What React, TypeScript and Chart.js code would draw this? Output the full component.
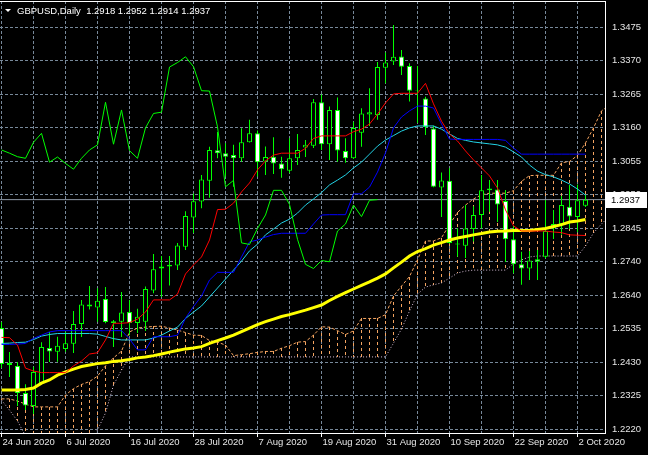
import React, { useEffect, useRef } from 'react';
import { Chart, registerables } from 'chart.js';

Chart.register(...registerables);

const symbolTitle = 'GBPUSD,Daily';
const dateLabels = ['24 Jun 2020', '6 Jul 2020', '16 Jul 2020', '28 Jul 2020', '7 Aug 2020', '19 Aug 2020', '31 Aug 2020', '10 Sep 2020', '22 Sep 2020', '2 Oct 2020'];
const priceLabels = ['1.2220', '1.2325', '1.2430', '1.2535', '1.2640', '1.2740', '1.2845', '1.2950', '1.3055', '1.3160', '1.3265', '1.3370', '1.3475'];

const opens = [1.2536, 1.2421, 1.2418, 1.2333, 1.2293, 1.2364, 1.2474, 1.2462, 1.2471, 1.2487, 1.2549, 1.2610, 1.2600, 1.2627, 1.2552, 1.2556, 1.2586, 1.2552, 1.2556, 1.2653, 1.2728, 1.2728, 1.2731, 1.2790, 1.2881, 1.2931, 1.2996, 1.3091, 1.3082, 1.3076, 1.3066, 1.3116, 1.3144, 1.3056, 1.3071, 1.3050, 1.3027, 1.3066, 1.3100, 1.3105, 1.3241, 1.3110, 1.3217, 1.3089, 1.3066, 1.3146, 1.3203, 1.3201, 1.3349, 1.3368, 1.3384, 1.3354, 1.3278, 1.3253, 1.3159, 1.2975, 1.2996, 1.2800, 1.2793, 1.2845, 1.2889, 1.2972, 1.2969, 1.2933, 1.2813, 1.2735, 1.2722, 1.2751, 1.2759, 1.2848, 1.2861, 1.2915, 1.2883, 1.2918];
const highs = [1.2555, 1.2461, 1.2430, 1.2361, 1.2415, 1.2492, 1.2524, 1.2509, 1.2525, 1.2589, 1.2624, 1.2667, 1.2660, 1.2664, 1.2561, 1.2649, 1.2624, 1.2596, 1.2666, 1.2767, 1.2761, 1.2761, 1.2802, 1.2901, 1.2956, 1.3014, 1.3102, 1.3148, 1.3113, 1.3108, 1.3160, 1.3186, 1.3153, 1.3103, 1.3132, 1.3071, 1.3129, 1.3142, 1.3123, 1.3251, 1.3265, 1.3228, 1.3256, 1.3129, 1.3180, 1.3222, 1.3285, 1.3367, 1.3396, 1.3482, 1.3404, 1.3363, 1.3354, 1.3258, 1.3168, 1.3022, 1.3035, 1.2848, 1.2920, 1.2916, 1.3014, 1.2998, 1.2998, 1.2967, 1.2855, 1.2774, 1.2777, 1.2780, 1.2936, 1.2905, 1.2948, 1.2983, 1.2984, 1.2952];
const lows = [1.2411, 1.2383, 1.2293, 1.2280, 1.2268, 1.2361, 1.2430, 1.2431, 1.2462, 1.2458, 1.2508, 1.2594, 1.2556, 1.2551, 1.2477, 1.2508, 1.2514, 1.2521, 1.2527, 1.2645, 1.2633, 1.2669, 1.2717, 1.2780, 1.2833, 1.2910, 1.2943, 1.3066, 1.3009, 1.2977, 1.3055, 1.3115, 1.3009, 1.3014, 1.3017, 1.3005, 1.3020, 1.3045, 1.3070, 1.3098, 1.3092, 1.3061, 1.3055, 1.3052, 1.3064, 1.3102, 1.3167, 1.3186, 1.3300, 1.3357, 1.3326, 1.3243, 1.3176, 1.3139, 1.2976, 1.2883, 1.2800, 1.2759, 1.2755, 1.2806, 1.2847, 1.2899, 1.2867, 1.2742, 1.2707, 1.2671, 1.2686, 1.2686, 1.2754, 1.2814, 1.2827, 1.2845, 1.2836, 1.2914];
const closes = [1.2424, 1.2427, 1.2333, 1.2294, 1.2399, 1.2477, 1.2463, 1.2481, 1.2489, 1.2549, 1.2610, 1.2603, 1.2621, 1.2555, 1.2557, 1.2585, 1.2552, 1.2571, 1.2658, 1.2720, 1.2722, 1.2734, 1.2794, 1.2886, 1.2932, 1.3000, 1.3092, 1.3082, 1.3071, 1.3066, 1.3116, 1.3144, 1.3054, 1.3070, 1.3050, 1.3032, 1.3066, 1.3092, 1.3108, 1.3241, 1.3110, 1.3217, 1.3090, 1.3066, 1.3161, 1.3206, 1.3210, 1.3351, 1.3365, 1.3383, 1.3352, 1.3277, 1.3276, 1.3164, 1.2977, 1.2997, 1.2802, 1.2797, 1.2847, 1.2889, 1.2966, 1.2966, 1.2922, 1.2813, 1.2735, 1.2722, 1.2747, 1.2743, 1.2839, 1.2861, 1.2920, 1.2884, 1.2935, 1.2937];

const tenkan = [1.2507, 1.2506, 1.2483, 1.2411, 1.2402, 1.2397, 1.2397, 1.2397, 1.2397, 1.2418, 1.2433, 1.2455, 1.2459, 1.2499, 1.2551, 1.2551, 1.2553, 1.2564, 1.2586, 1.2624, 1.2624, 1.2624, 1.2642, 1.2705, 1.2733, 1.2758, 1.2811, 1.2906, 1.2907, 1.2926, 1.2961, 1.2989, 1.3030, 1.3058, 1.3076, 1.3082, 1.3082, 1.3082, 1.3097, 1.3128, 1.3136, 1.3136, 1.3136, 1.3136, 1.3149, 1.3157, 1.3173, 1.3204, 1.3239, 1.3267, 1.3269, 1.3269, 1.3269, 1.3300, 1.3236, 1.3182, 1.3142, 1.3120, 1.3089, 1.3061, 1.3036, 1.3011, 1.2973, 1.2905, 1.2855, 1.2839, 1.2839, 1.2839, 1.2839, 1.2836, 1.2834, 1.2827, 1.2826, 1.2825];
const kijun = [1.2485, 1.2485, 1.2486, 1.2488, 1.2504, 1.2514, 1.2524, 1.2528, 1.2528, 1.2528, 1.2528, 1.2528, 1.2528, 1.2528, 1.2528, 1.2528, 1.2502, 1.2468, 1.2468, 1.2509, 1.2509, 1.2509, 1.2514, 1.2567, 1.2603, 1.2636, 1.2686, 1.2710, 1.2710, 1.2710, 1.2758, 1.2805, 1.2811, 1.2820, 1.2828, 1.2832, 1.2832, 1.2832, 1.2832, 1.2861, 1.2889, 1.2890, 1.2890, 1.2890, 1.2955, 1.2955, 1.2976, 1.3023, 1.3083, 1.3161, 1.3195, 1.3214, 1.3229, 1.3229, 1.3223, 1.3173, 1.3126, 1.3125, 1.3125, 1.3125, 1.3125, 1.3125, 1.3125, 1.3122, 1.3098, 1.3079, 1.3079, 1.3079, 1.3079, 1.3079, 1.3079, 1.3079, 1.3079, 1.3079];
const maCyan = [1.2488, 1.2489, 1.2491, 1.2492, 1.2500, 1.2511, 1.2516, 1.2519, 1.2519, 1.2519, 1.2519, 1.2519, 1.2517, 1.2510, 1.2503, 1.2499, 1.2499, 1.2499, 1.2499, 1.2505, 1.2514, 1.2527, 1.2539, 1.2566, 1.2586, 1.2605, 1.2633, 1.2661, 1.2689, 1.2717, 1.2745, 1.2777, 1.2798, 1.2827, 1.2845, 1.2864, 1.2876, 1.2895, 1.2920, 1.2939, 1.2959, 1.2983, 1.2998, 1.3014, 1.3036, 1.3054, 1.3079, 1.3104, 1.3123, 1.3137, 1.3151, 1.3161, 1.3167, 1.3167, 1.3167, 1.3157, 1.3142, 1.3128, 1.3122, 1.3117, 1.3114, 1.3111, 1.3108, 1.3101, 1.3086, 1.3070, 1.3045, 1.3026, 1.3015, 1.3008, 1.2998, 1.2986, 1.2970, 1.2951];
const maYellow = [1.2343, 1.2343, 1.2343, 1.2344, 1.2349, 1.2364, 1.2374, 1.2389, 1.2399, 1.2408, 1.2416, 1.2421, 1.2425, 1.2428, 1.2432, 1.2434, 1.2438, 1.2443, 1.2446, 1.2450, 1.2455, 1.2461, 1.2466, 1.2471, 1.2474, 1.2478, 1.2488, 1.2497, 1.2505, 1.2514, 1.2525, 1.2536, 1.2547, 1.2556, 1.2564, 1.2572, 1.2578, 1.2585, 1.2592, 1.2600, 1.2608, 1.2622, 1.2635, 1.2647, 1.2658, 1.2669, 1.2680, 1.2692, 1.2705, 1.2724, 1.2742, 1.2761, 1.2775, 1.2784, 1.2795, 1.2803, 1.2811, 1.2817, 1.2822, 1.2827, 1.2831, 1.2836, 1.2838, 1.2839, 1.2841, 1.2841, 1.2841, 1.2844, 1.2847, 1.2853, 1.2859, 1.2867, 1.2870, 1.2875];
const spanA = [1.2315, 1.2315, 1.2308, 1.2299, 1.2290, 1.2290, 1.2290, 1.2290, 1.2327, 1.2347, 1.2360, 1.2369, 1.2386, 1.2418, 1.2443, 1.2464, 1.2524, 1.2536, 1.2539, 1.2541, 1.2542, 1.2536, 1.2530, 1.2522, 1.2514, 1.2513, 1.2497, 1.2492, 1.2483, 1.2450, 1.2453, 1.2456, 1.2460, 1.2463, 1.2463, 1.2473, 1.2481, 1.2492, 1.2494, 1.2514, 1.2540, 1.2539, 1.2528, 1.2516, 1.2527, 1.2566, 1.2566, 1.2566, 1.2578, 1.2636, 1.2667, 1.2697, 1.2749, 1.2808, 1.2808, 1.2818, 1.2859, 1.2897, 1.2920, 1.2939, 1.2952, 1.2957, 1.2957, 1.2957, 1.2965, 1.2994, 1.3012, 1.3013, 1.3013, 1.3013, 1.3052, 1.3056, 1.3075, 1.3114, 1.3161, 1.3214, 1.3232];
const spanB = [1.2311, 1.2280, 1.2246, 1.2199, 1.2162, 1.2162, 1.2162, 1.2162, 1.2162, 1.2162, 1.2162, 1.2162, 1.2218, 1.2271, 1.2358, 1.2405, 1.2446, 1.2446, 1.2446, 1.2446, 1.2446, 1.2446, 1.2446, 1.2446, 1.2446, 1.2446, 1.2446, 1.2446, 1.2446, 1.2446, 1.2446, 1.2446, 1.2446, 1.2446, 1.2446, 1.2446, 1.2446, 1.2446, 1.2446, 1.2446, 1.2446, 1.2446, 1.2446, 1.2446, 1.2446, 1.2446, 1.2446, 1.2446, 1.2446, 1.2489, 1.2533, 1.2589, 1.2642, 1.2664, 1.2671, 1.2677, 1.2692, 1.2708, 1.2714, 1.2717, 1.2717, 1.2717, 1.2717, 1.2717, 1.2736, 1.2749, 1.2758, 1.2761, 1.2761, 1.2761, 1.2761, 1.2761, 1.2761, 1.2792, 1.2833, 1.2861, 1.2886];

const CHIKOU_SHIFT = 26;
const FONT = '"Liberation Sans", Arial, sans-serif';
const CLOUD_UP = '#F4A460';
const CLOUD_DOWN = '#D8BFD8';

export default function App() {
  const ref = useRef<HTMLCanvasElement>(null);

  useEffect(() => {
    const canvas = ref.current as HTMLCanvasElement;
    const n = closes.length;
    const pts = (arr: number[], shift = 0) => arr.map((v, i) => ({ x: i - shift, y: v }));
    const last = closes[n - 1];

    const cloudHatch = {
      id: 'cloudHatch',
      beforeDatasetsDraw(chart: any) {
        const { ctx, chartArea, scales } = chart;
        const xs = scales.x;
        const ys = scales.y;
        ctx.save();
        ctx.beginPath();
        ctx.rect(chartArea.left, chartArea.top, chartArea.right - chartArea.left, chartArea.bottom - chartArea.top);
        ctx.clip();
        ctx.lineWidth = 1;
        spanA.forEach((a, i) => {
          const b = spanB[i];
          const px = Math.round(xs.getPixelForValue(i) - 0.5) + 0.5;
          const ya = ys.getPixelForValue(a);
          const yb = ys.getPixelForValue(b);
          const up = a >= b;
          ctx.strokeStyle = up ? CLOUD_UP : CLOUD_DOWN;
          ctx.setLineDash(up ? [3, 3] : [1, 2]);
          ctx.beginPath();
          ctx.moveTo(px, Math.round(Math.min(ya, yb)));
          ctx.lineTo(px, Math.round(Math.max(ya, yb)));
          ctx.stroke();
        });
        ctx.restore();
      },
    };

    const overlay = {
      id: 'mt4Overlay',
      afterDraw(chart: any) {
        const { ctx, chartArea, scales } = chart;
        ctx.save();
        ctx.strokeStyle = '#FFFFFF';
        ctx.lineWidth = 1;
        ctx.beginPath();
        ctx.moveTo(chartArea.left, chartArea.top + 0.5);
        ctx.lineTo(chartArea.right + 1, chartArea.top + 0.5);
        ctx.stroke();

        ctx.fillStyle = '#FFFFFF';
        ctx.beginPath();
        ctx.moveTo(5, 9);
        ctx.lineTo(11, 9);
        ctx.lineTo(8, 12);
        ctx.closePath();
        ctx.fill();
        ctx.font = '9.5px ' + FONT;
        ctx.textAlign = 'left';
        ctx.textBaseline = 'alphabetic';
        ctx.fillText(
          symbolTitle + '  ' + opens[n - 1].toFixed(4) + ' ' + highs[n - 1].toFixed(4) + ' ' + lows[n - 1].toFixed(4) + ' ' + last.toFixed(4),
          17,
          14
        );

        const y = scales.y.getPixelForValue(last);
        ctx.fillStyle = '#FFFFFF';
        ctx.fillRect(chartArea.right + 1, Math.round(y) - 8, 41, 16);
        ctx.fillStyle = '#000000';
        ctx.textBaseline = 'middle';
        ctx.fillText(last.toFixed(4), chartArea.right + 6, y + 0.5);
        ctx.restore();
      },
    };

    const chart = new Chart(canvas, {
      type: 'line',
      data: {
        datasets: [
          {
            label: 'spanA',
            data: pts(spanA),
            borderColor: CLOUD_UP,
            borderWidth: 1,
            borderDash: [3, 2],
            pointRadius: 0,
            order: 19,
          },
          {
            label: 'spanB',
            data: pts(spanB),
            borderColor: CLOUD_DOWN,
            borderWidth: 1,
            borderDash: [1, 2],
            pointRadius: 0,
            order: 18,
          },
          {
            label: 'bid',
            data: [{ x: -2, y: last }, { x: 90, y: last }],
            borderColor: '#8E99A6',
            borderWidth: 1,
            pointRadius: 0,
            order: 17,
          },
          {
            type: 'bar',
            label: 'wick',
            data: lows.map((l, i) => ({ x: i, y: [l, highs[i]] })),
            backgroundColor: '#00FF00',
            barThickness: 1,
            grouped: false,
            inflateAmount: 0,
            borderWidth: 0,
            order: 16,
          } as any,
          {
            type: 'bar',
            label: 'body',
            data: opens.map((o, i) => ({ x: i, y: [o, closes[i]] })),
            backgroundColor: opens.map((o, i) => (closes[i] > o ? '#000000' : '#FFFFFF')),
            borderColor: '#00FF00',
            borderWidth: 1,
            borderSkipped: false,
            barThickness: 5,
            grouped: false,
            inflateAmount: 0,
            order: 15,
          } as any,
          {
            label: 'maYellow',
            data: pts(maYellow),
            borderColor: '#FFFF00',
            borderWidth: 3,
            pointRadius: 0,
            order: 6,
          },
          {
            label: 'maCyan',
            data: pts(maCyan),
            borderColor: '#22D3E6',
            borderWidth: 1,
            pointRadius: 0,
            order: 5,
          },
          {
            label: 'kijun',
            data: pts(kijun),
            borderColor: '#0000FF',
            borderWidth: 1,
            pointRadius: 0,
            order: 4,
          },
          {
            label: 'tenkan',
            data: pts(tenkan),
            borderColor: '#FF0000',
            borderWidth: 1,
            pointRadius: 0,
            order: 3,
          },
          {
            label: 'chikou',
            data: pts(closes, CHIKOU_SHIFT).filter((p) => p.x >= 0),
            borderColor: '#00FF00',
            borderWidth: 1,
            pointRadius: 0,
            order: 2,
          },
        ],
      },
      options: {
        responsive: false,
        devicePixelRatio: 1,
        animation: false,
        events: [],
        layout: { padding: { top: 1, left: 0, right: 0, bottom: 0 } },
        elements: { line: { tension: 0 } },
        plugins: { legend: { display: false }, tooltip: { enabled: false }, title: { display: false } },
        scales: {
          x: {
            type: 'linear',
            offset: false,
            min: -0.1875,
            max: 75.4375,
            afterBuildTicks: (scale: any) => {
              const t = [];
              for (let v = 0; v <= 72; v += 4) t.push({ value: v });
              scale.ticks = t;
            },
            afterFit: (scale: any) => {
              scale.height = 22;
              scale.paddingLeft = 0;
              scale.paddingRight = 0;
            },
            ticks: {
              autoSkip: false,
              maxRotation: 0,
              minRotation: 0,
              align: 'start',
              labelOffset: 1,
              padding: 0,
              color: '#E6E6E6',
              font: { family: FONT, size: 9.5 },
              callback: (value: any) => (value % 8 === 0 ? dateLabels[value / 8] : ''),
            },
            grid: {
              offset: false,
              color: '#778899',
              lineWidth: 1,
              drawTicks: true,
              tickLength: 4,
              tickColor: (c: any) => (c.tick && c.tick.value % 8 === 0 ? '#FFFFFF' : 'rgba(0,0,0,0)'),
            },
            border: { display: true, color: '#FFFFFF', width: 1, dash: [3, 2] },
          },
          y: {
            type: 'linear',
            position: 'right',
            offset: false,
            min: 1.220845,
            max: 1.355711,
            afterBuildTicks: (scale: any) => {
              scale.ticks = priceLabels.map((_, k) => ({ value: 1.222 + (k * (1.3475 - 1.222)) / 12 }));
            },
            afterFit: (scale: any) => {
              scale.width = 43;
              scale.paddingTop = 0;
              scale.paddingBottom = 0;
            },
            ticks: {
              padding: 3,
              color: '#E6E6E6',
              font: { family: FONT, size: 9.5 },
              callback: (_v: any, index: number) => priceLabels[index],
            },
            grid: {
              color: '#778899',
              lineWidth: 1,
              drawTicks: true,
              tickLength: 4,
              tickColor: 'rgba(0,0,0,0)',
            },
            border: { display: true, color: '#FFFFFF', width: 1, dash: [3, 2] },
          },
        },
      } as any,
      plugins: [cloudHatch, overlay],
    });

    return () => chart.destroy();
  }, []);

  return (
    <div style={{ position: 'fixed', left: 0, top: 0, width: 648, height: 455, background: '#000000' }}>
      <canvas ref={ref} width={648} height={455} style={{ display: 'block', width: 648, height: 455 }} />
    </div>
  );
}
